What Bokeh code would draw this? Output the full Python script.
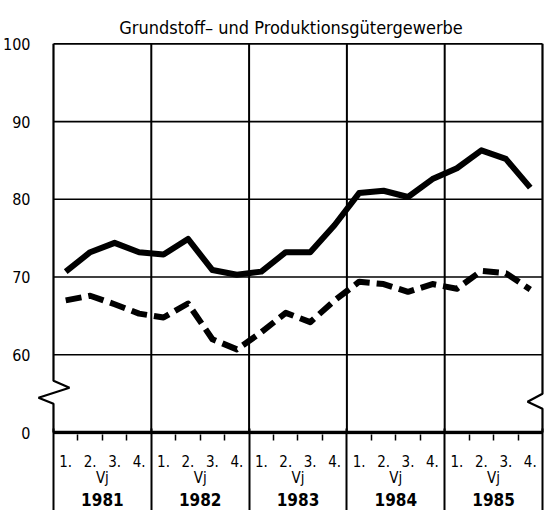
from bokeh.plotting import figure
from bokeh.models import LinearAxis, FixedTicker, Range1d
from bokeh.embed import file_html
from bokeh.resources import INLINE

# ---- data ----
years = ["1981", "1982", "1983", "1984", "1985"]
quarter_labels = ["1.", "2.", "3.", "4."]
period_label = "Vj"
title_text = "Grundstoff\u2013 und Produktionsgütergewerbe"
y_ticks = [100, 90, 80, 70, 60]
zero_label = "0"
# solid line
series_solid = [70.7, 73.2, 74.4, 73.2,
                72.9, 74.9, 70.9, 70.3,
                70.7, 73.2, 73.2, 76.7,
                80.8, 81.1, 80.3, 82.6,
                84.0, 86.3, 85.2, 81.5]
# dashed line
series_dashed = [67.0, 67.6, 66.5, 65.3,
                 64.8, 66.6, 62.0, 60.7,
                 62.9, 65.4, 64.2, 67.0,
                 69.4, 69.1, 68.1, 69.1,
                 68.5, 70.8, 70.5, 68.4]

FONT = "'DejaVu Sans Condensed', Roboto, sans-serif"
BREAK_BASE = 50  # display value of the "0" baseline (axis break below 60)

n_q = len(years) * 4
xq = [i + 0.5 for i in range(n_q)]
year_bounds = [4 * i for i in range(len(years) + 1)]
year_centers = [4 * i + 2 for i in range(len(years))]
quarter_bounds = [i for i in range(1, n_q) if i % 4 != 0]

p = figure(width=545, height=510, output_backend="svg", toolbar_location=None,
           x_range=Range1d(-0.695, 20.123), y_range=Range1d(49.75, 100.3),
           x_axis_location=None, y_axis_location=None,
           min_border_left=36, min_border_right=0, min_border_top=41,
           min_border_bottom=74)
p.outline_line_color = None
p.background_fill_color = "white"
p.border_fill_color = "white"
try:
    p.xgrid.visible = False
    p.ygrid.visible = False
except Exception:
    pass

# title
p.title.text = title_text
p.title.align = "center"
p.title.text_font = FONT
p.title.text_font_size = "18px"
p.title.text_font_style = "normal"
p.title.text_color = "black"
p.title.offset = 0
p.title.standoff = 7

# horizontal grid lines
x0, x1 = year_bounds[0], year_bounds[-1]
p.segment(x0=[x0] * len(y_ticks), x1=[x1] * len(y_ticks), y0=y_ticks, y1=y_ticks,
          line_color="black", line_width=1.6)
# interior year separators
inner = year_bounds[1:-1]
p.segment(x0=inner, x1=inner, y0=[BREAK_BASE] * len(inner), y1=[100] * len(inner),
          line_color="black", line_width=2)
# left frame with break zigzag
p.line(x=[x0, x0, 0.654, -0.613, x0, x0], y=[100, 56.65, 55.76, 54.48, 53.71, BREAK_BASE],
       line_color="black", line_width=2.2)
# right frame with break zigzag
p.line(x=[x1, x1, x1 - 0.61, x1, x1], y=[100, 55.0, 53.97, 53.07, BREAK_BASE],
       line_color="black", line_width=2.2)
# baseline (0)
p.segment(x0=[x0], x1=[x1], y0=[BREAK_BASE], y1=[BREAK_BASE], line_color="black",
          line_width=3.5)

# data lines
p.line(x=xq, y=series_solid, line_color="black", line_width=6, line_join="round")
p.line(x=xq, y=series_dashed, line_color="black", line_width=6, line_dash="16 7",
       line_join="round")

# y axis
ya = LinearAxis(ticker=FixedTicker(ticks=y_ticks + [BREAK_BASE]),
                major_label_overrides={BREAK_BASE: zero_label})
ya.axis_line_color = None
ya.major_tick_line_color = None
ya.minor_tick_line_color = None
ya.major_tick_out = 0
ya.major_label_standoff = 6
ya.major_label_text_font = FONT
ya.major_label_text_font_size = "16px"
ya.major_label_text_color = "black"
p.add_layout(ya, "left")

# x axis A: quarter labels
qa_over = {xq[i]: quarter_labels[i % 4] for i in range(n_q)}
xa = LinearAxis(ticker=FixedTicker(ticks=xq, minor_ticks=quarter_bounds),
                major_label_overrides=qa_over)
xa.axis_line_color = None
xa.major_tick_line_color = None
xa.major_tick_out = 0
xa.major_tick_in = 0
xa.minor_tick_line_color = "black"
xa.minor_tick_line_width = 1.5
xa.minor_tick_out = 6
xa.minor_tick_in = 0
xa.major_label_standoff = 14
xa.major_label_text_font = FONT
xa.major_label_text_font_size = "15px"
xa.major_label_text_color = "black"
p.add_layout(xa, "below")

# x axis B: "Vj"
xb = LinearAxis(ticker=FixedTicker(ticks=year_centers, minor_ticks=[]),
                major_label_overrides={c: period_label for c in year_centers})
xb.axis_line_color = None
xb.major_tick_line_color = None
xb.minor_tick_line_color = None
xb.major_tick_out = 0
xb.major_label_standoff = -1
xb.major_label_text_font = FONT
xb.major_label_text_font_size = "15px"
xb.major_label_text_color = "black"
p.add_layout(xb, "below")

# x axis D: years
xd = LinearAxis(ticker=FixedTicker(ticks=year_centers, minor_ticks=[]),
                major_label_overrides={c: y for c, y in zip(year_centers, years)})
xd.axis_line_color = None
xd.major_tick_line_color = None
xd.minor_tick_line_color = None
xd.major_tick_out = 0
xd.major_label_standoff = 3
xd.major_label_text_font = FONT
xd.major_label_text_font_size = "17px"
xd.major_label_text_font_style = "bold"
xd.major_label_text_color = "black"
p.add_layout(xd, "below")

# x axis C: year separators below baseline
xc = LinearAxis(ticker=FixedTicker(ticks=year_bounds, minor_ticks=[]),
                major_label_overrides={b: "" for b in year_bounds})
xc.axis_line_color = None
xc.major_tick_line_color = "black"
xc.major_tick_line_width = 2
xc.major_tick_in = 80
xc.major_tick_out = 2
xc.minor_tick_line_color = None
xc.major_label_standoff = 0
xc.major_label_text_font_size = "1px"
p.add_layout(xc, "below")

open("out.html", "w").write(file_html(p, INLINE))
